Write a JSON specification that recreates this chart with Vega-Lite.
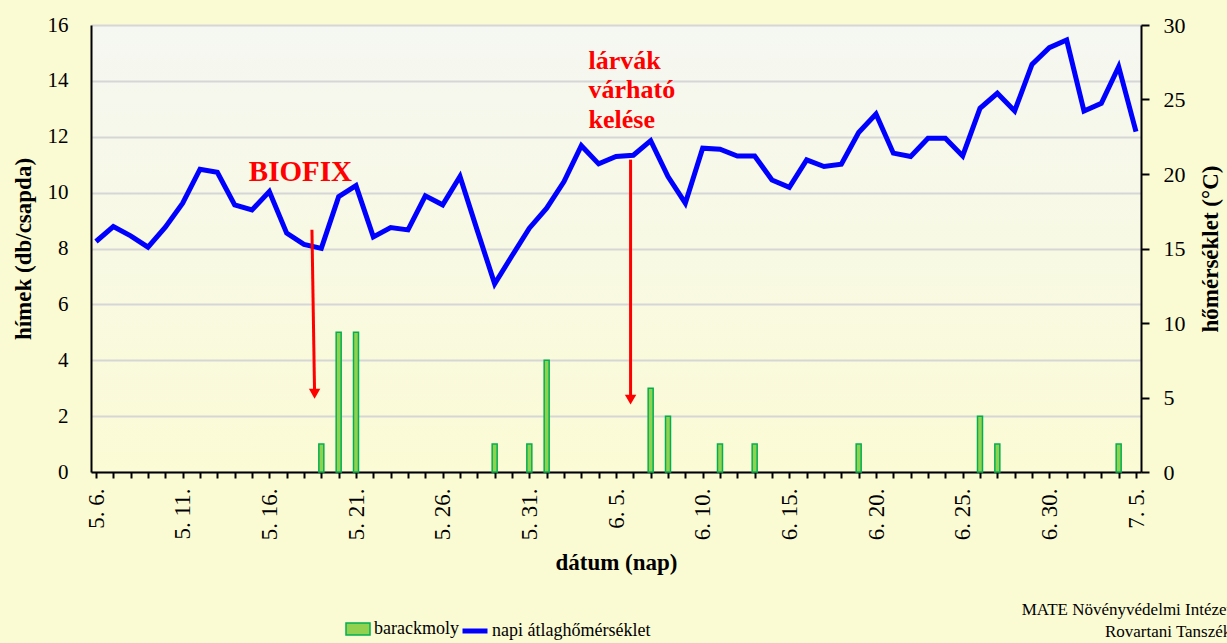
{
  "$schema": "https://vega.github.io/schema/vega-lite/v6.json",
  "width": 1050,
  "height": 447,
  "autosize": {"type": "none"},
  "padding": {"left": 91, "top": 25, "right": 86, "bottom": 171},
  "background": "#fbfbd3",
  "config": {
    "font": "Liberation Serif",
    "view": {"stroke": null, "fill": {"gradient": "linear", "x1": 0, "y1": 0, "x2": 0, "y2": 1, "stops": [{"offset": 0, "color": "#f5f7f2"}, {"offset": 1, "color": "#fbfbd5"}]}},
    "axis": {"labelFont": "Liberation Serif", "titleFont": "Liberation Serif", "labelColor": "#000000", "titleColor": "#000000", "domainColor": "#000000", "domainWidth": 2, "tickColor": "#000000", "tickWidth": 2, "titleFontWeight": "bold"},
    "legend": {"labelFont": "Liberation Serif", "labelColor": "#000000"}
  },
  "datasets": {
    "csapda": [
      {"date": "2023-05-19", "db": 1},
      {"date": "2023-05-20", "db": 5},
      {"date": "2023-05-21", "db": 5},
      {"date": "2023-05-29", "db": 1},
      {"date": "2023-05-31", "db": 1},
      {"date": "2023-06-01", "db": 4},
      {"date": "2023-06-07", "db": 3},
      {"date": "2023-06-08", "db": 2},
      {"date": "2023-06-11", "db": 1},
      {"date": "2023-06-13", "db": 1},
      {"date": "2023-06-19", "db": 1},
      {"date": "2023-06-26", "db": 2},
      {"date": "2023-06-27", "db": 1},
      {"date": "2023-07-04", "db": 1}
    ],
    "homerseklet": [
      {"date": "2023-05-06", "t": 15.47},
      {"date": "2023-05-07", "t": 16.47},
      {"date": "2023-05-08", "t": 15.85},
      {"date": "2023-05-09", "t": 15.09},
      {"date": "2023-05-10", "t": 16.43},
      {"date": "2023-05-11", "t": 18.04},
      {"date": "2023-05-12", "t": 20.32},
      {"date": "2023-05-13", "t": 20.11},
      {"date": "2023-05-14", "t": 17.93},
      {"date": "2023-05-15", "t": 17.59},
      {"date": "2023-05-16", "t": 18.82},
      {"date": "2023-05-17", "t": 16.03},
      {"date": "2023-05-18", "t": 15.28},
      {"date": "2023-05-19", "t": 15.01},
      {"date": "2023-05-20", "t": 18.48},
      {"date": "2023-05-21", "t": 19.22},
      {"date": "2023-05-22", "t": 15.78},
      {"date": "2023-05-23", "t": 16.41},
      {"date": "2023-05-24", "t": 16.25},
      {"date": "2023-05-25", "t": 18.53},
      {"date": "2023-05-26", "t": 17.93},
      {"date": "2023-05-27", "t": 19.83},
      {"date": "2023-05-28", "t": 16.2},
      {"date": "2023-05-29", "t": 12.63},
      {"date": "2023-05-30", "t": 14.51},
      {"date": "2023-05-31", "t": 16.36},
      {"date": "2023-06-01", "t": 17.71},
      {"date": "2023-06-02", "t": 19.49},
      {"date": "2023-06-03", "t": 21.9},
      {"date": "2023-06-04", "t": 20.68},
      {"date": "2023-06-05", "t": 21.17},
      {"date": "2023-06-06", "t": 21.26},
      {"date": "2023-06-07", "t": 22.24},
      {"date": "2023-06-08", "t": 19.83},
      {"date": "2023-06-09", "t": 18.04},
      {"date": "2023-06-10", "t": 21.73},
      {"date": "2023-06-11", "t": 21.66},
      {"date": "2023-06-12", "t": 21.21},
      {"date": "2023-06-13", "t": 21.21},
      {"date": "2023-06-14", "t": 19.6},
      {"date": "2023-06-15", "t": 19.11},
      {"date": "2023-06-16", "t": 20.95},
      {"date": "2023-06-17", "t": 20.5},
      {"date": "2023-06-18", "t": 20.66},
      {"date": "2023-06-19", "t": 22.78},
      {"date": "2023-06-20", "t": 24.03},
      {"date": "2023-06-21", "t": 21.4},
      {"date": "2023-06-22", "t": 21.17},
      {"date": "2023-06-23", "t": 22.4},
      {"date": "2023-06-24", "t": 22.4},
      {"date": "2023-06-25", "t": 21.21},
      {"date": "2023-06-26", "t": 24.41},
      {"date": "2023-06-27", "t": 25.42},
      {"date": "2023-06-28", "t": 24.23},
      {"date": "2023-06-29", "t": 27.36},
      {"date": "2023-06-30", "t": 28.48},
      {"date": "2023-07-01", "t": 28.99},
      {"date": "2023-07-02", "t": 24.23},
      {"date": "2023-07-03", "t": 24.75},
      {"date": "2023-07-04", "t": 27.2},
      {"date": "2023-07-05", "t": 22.84}
    ],
    "nyil": [
      {"date": "2023-05-18T11:00:00Z", "date2": "2023-05-18T14:40:00Z", "v": 8.67, "v2": 2.8},
      {"date": "2023-06-05T20:10:00Z", "date2": "2023-06-05T20:10:00Z", "v": 11.18, "v2": 2.59}
    ],
    "nyilhegy": [
      {"date": "2023-05-18T14:40:00Z", "v": 2.8},
      {"date": "2023-06-05T20:10:00Z", "v": 2.59}
    ],
    "biofix": [{"date": "2023-05-17T19:00:00Z", "v": 10.4, "label": "BIOFIX"}],
    "larva": [{"date": "2023-06-03T10:00:00Z", "v": 14.43, "label": "lárvák\nvárható\nkelése"}],
    "forras": [{"date": "2023-07-10T12:00:00Z", "v": -5.11, "label": "MATE Növényvédelmi Intézet\nRovartani Tanszék"}]
  },
  "encoding": {
    "x": {
      "field": "date",
      "type": "temporal",
      "scale": {"type": "utc", "nice": false, "domain": [{"year": 2023, "month": 5, "date": 6, "utc": true}, {"year": 2023, "month": 7, "date": 5, "utc": true}]},
      "axis": {
        "title": "dátum (nap)",
        "titleFontSize": 23,
        "titlePadding": 12,
        "tickCount": {"interval": "day", "step": 1},
        "tickSize": 6,
        "labelAngle": 270,
        "labelFontSize": 23,
        "labelPadding": 10,
        "labelOverlap": false,
        "labelFlush": false,
        "labelBound": false,
        "labelExpr": "round((datum.value - utc(2023,4,6))/864e5) % 5 == 0 ? utcFormat(datum.value, '%-m. %-d.') : ''",
        "grid": false
      }
    }
  },
  "layer": [
    {
      "data": {"name": "csapda"},
      "mark": {"type": "bar", "size": 5, "stroke": "#00B050", "strokeWidth": 1.5},
      "encoding": {
        "y": {
          "field": "db",
          "type": "quantitative",
          "scale": {"domain": [0, 16], "nice": false},
          "axis": {
            "title": "hímek (db/csapda)",
            "titleFontSize": 23,
            "titlePadding": 12,
            "values": [0, 2, 4, 6, 8, 10, 12, 14, 16],
            "labelFontSize": 21,
            "ticks": false,
            "labelPadding": 23,
            "grid": true,
            "gridColor": "#d6d6d6",
            "gridWidth": 2
          }
        },
        "fill": {
          "datum": "barackmoly",
          "type": "nominal",
          "scale": {"range": ["#92D050"]},
          "legend": {
            "orient": "none",
            "legendX": 254,
            "legendY": 591,
            "title": null,
            "padding": 0,
            "symbolType": "M-1,-0.5H1V0.5H-1Z",
            "symbolSize": 576,
            "symbolStrokeColor": "#00B050",
            "symbolStrokeWidth": 1.5,
            "labelFontSize": 18,
            "labelOffset": 3
          }
        }
      }
    },
    {
      "data": {"name": "homerseklet"},
      "mark": {"type": "line", "strokeWidth": 5},
      "encoding": {
        "y": {
          "field": "t",
          "type": "quantitative",
          "scale": {"domain": [0, 30], "nice": false},
          "axis": {
            "orient": "right",
            "title": "hőmérséklet (°C)",
            "titleFontSize": 23,
            "titleAngle": 270,
            "titleBaseline": "top",
            "titlePadding": 14,
            "values": [0, 5, 10, 15, 20, 25, 30],
            "labelFontSize": 22,
            "tickSize": 8,
            "labelPadding": 14,
            "grid": false
          }
        },
        "stroke": {
          "datum": "napi átlaghőmérséklet",
          "type": "nominal",
          "scale": {"range": ["#0000FF"]},
          "legend": {
            "orient": "none",
            "legendX": 369,
            "legendY": 591,
            "title": null,
            "padding": 0,
            "symbolType": "stroke",
            "symbolSize": 625,
            "symbolStrokeWidth": 5,
            "labelFontSize": 18,
            "labelOffset": 2
          }
        }
      }
    },
    {
      "layer": [
        {
          "data": {"name": "nyil"},
          "mark": {"type": "rule", "color": "#FF0000", "strokeWidth": 3},
          "encoding": {
            "x2": {"field": "date2"},
            "y": {"field": "v", "type": "quantitative", "scale": {"domain": [0, 16], "nice": false}, "axis": null},
            "y2": {"field": "v2"}
          }
        },
        {
          "data": {"name": "nyilhegy"},
          "mark": {"type": "point", "shape": "triangle-down", "filled": true, "color": "#FF0000", "size": 130, "opacity": 1},
          "encoding": {
            "y": {"field": "v", "type": "quantitative", "scale": {"domain": [0, 16], "nice": false}, "axis": null}
          }
        },
        {
          "data": {"name": "biofix"},
          "mark": {"type": "text", "font": "Liberation Serif", "fontWeight": "bold", "fontSize": 29, "color": "#FF0000", "align": "center", "baseline": "alphabetic"},
          "encoding": {
            "y": {"field": "v", "type": "quantitative", "scale": {"domain": [0, 16], "nice": false}, "axis": null},
            "text": {"field": "label"}
          }
        },
        {
          "data": {"name": "larva"},
          "mark": {"type": "text", "font": "Liberation Serif", "fontWeight": "bold", "fontSize": 26, "color": "#FF0000", "align": "left", "baseline": "alphabetic", "lineBreak": "\n", "lineHeight": 29.5},
          "encoding": {
            "y": {"field": "v", "type": "quantitative", "scale": {"domain": [0, 16], "nice": false}, "axis": null},
            "text": {"field": "label"}
          }
        },
        {
          "data": {"name": "forras"},
          "mark": {"type": "text", "font": "Liberation Serif", "fontSize": 17, "color": "#000000", "align": "right", "baseline": "alphabetic", "lineBreak": "\n", "lineHeight": 22},
          "encoding": {
            "y": {"field": "v", "type": "quantitative", "scale": {"domain": [0, 16], "nice": false}, "axis": null},
            "text": {"field": "label"}
          }
        }
      ]
    }
  ],
  "resolve": {"scale": {"y": "independent"}}
}
